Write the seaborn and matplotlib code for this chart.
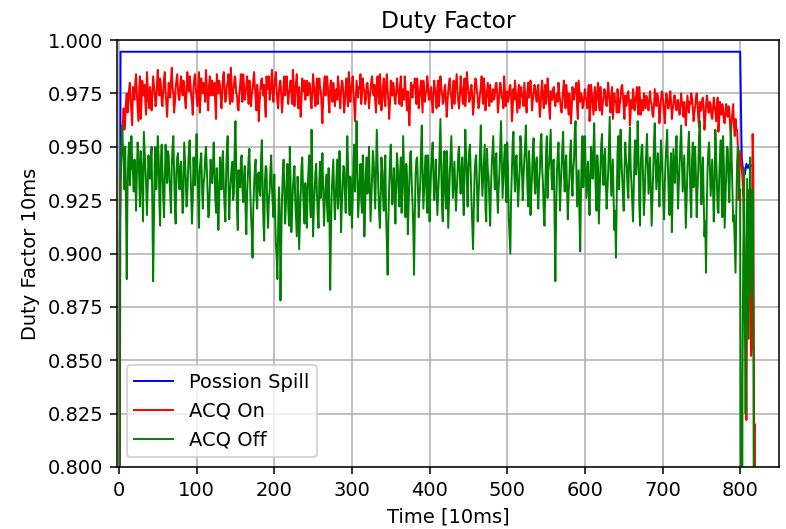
import numpy as np
import matplotlib
matplotlib.use("Agg")
import matplotlib.pyplot as plt
import seaborn as sns

# Poisson spill (flat breakpoints)
blue_x = [0, 2, 798, 800, 802, 804, 806, 808, 810, 812, 814]
blue_y = [0.500, 0.9945, 0.9945, 0.9945, 0.945, 0.938, 0.937, 0.942, 0.940, 0.942, 0.941]

# ACQ On, thousandths, one value per time unit from 0 (40 per row)
red_k = [
    500, 910, 930, 948, 955, 962, 968, 958, 962, 971, 975, 966, 970, 977, 980, 972, 966, 960, 978, 974, 972, 980, 984, 975, 968, 962, 976, 983, 963, 970, 981, 976, 974, 979, 970, 965, 985, 978, 972, 968,
    978, 973, 967, 975, 983, 979, 975, 969, 971, 980, 986, 977, 974, 982, 979, 971, 969, 976, 982, 985, 976, 970, 964, 972, 980, 976, 973, 981, 987, 978, 975, 966, 970, 978, 981, 984, 977, 972, 972, 980,
    983, 977, 974, 981, 979, 972, 968, 975, 985, 979, 976, 983, 980, 974, 971, 965, 978, 982, 984, 977, 973, 969, 979, 985, 966, 972, 982, 976, 975, 980, 977, 971, 986, 979, 972, 967, 979, 983, 974, 978,
    981, 974, 976, 980, 970, 963, 984, 978, 975, 981, 979, 973, 968, 976, 983, 985, 977, 971, 973, 979, 980, 984, 975, 970, 987, 980, 971, 976, 978, 983, 982, 975, 974, 968, 967, 975, 979, 984, 976, 971,
    984, 979, 972, 976, 978, 983, 975, 970, 981, 977, 969, 974, 977, 981, 985, 978, 973, 967, 979, 975, 962, 970, 976, 981, 982, 977, 974, 979, 970, 964, 983, 978, 977, 983, 972, 975, 980, 986, 975, 971,
    978, 982, 985, 977, 971, 968, 976, 980, 981, 974, 966, 972, 979, 983, 974, 978, 983, 976, 970, 975, 977, 981, 975, 970, 986, 979, 969, 975, 980, 984, 973, 968, 978, 972, 964, 971, 982, 978, 976, 981,
    972, 977, 981, 974, 975, 980, 979, 971, 968, 976, 984, 979, 973, 969, 977, 982, 970, 975, 982, 978, 976, 968, 961, 972, 979, 983, 974, 977, 983, 978, 971, 966, 978, 981, 975, 971, 980, 976, 969, 974,
    977, 972, 983, 979, 972, 968, 976, 981, 980, 974, 966, 971, 978, 982, 974, 969, 985, 979, 971, 976, 979, 983, 975, 969, 962, 973, 981, 977, 973, 978, 977, 984, 970, 975, 982, 978, 976, 970, 972, 979,
    980, 975, 968, 973, 977, 981, 983, 976, 974, 979, 971, 966, 979, 983, 975, 970, 984, 978, 967, 972, 978, 982, 972, 969, 980, 984, 976, 971, 963, 970, 981, 977, 974, 980, 978, 972, 970, 975, 982, 977,
    975, 970, 979, 983, 969, 974, 977, 972, 983, 978, 972, 967, 976, 968, 960, 971, 980, 976, 973, 979, 978, 982, 975, 970, 982, 977, 968, 973, 977, 981, 974, 966, 981, 977, 971, 975, 976, 983, 979, 972,
    972, 976, 978, 971, 966, 974, 981, 977, 974, 968, 977, 981, 969, 975, 983, 978, 975, 970, 971, 977, 979, 973, 964, 970, 976, 980, 982, 975, 973, 968, 977, 981, 970, 976, 980, 984, 975, 971, 968, 974,
    983, 978, 974, 970, 978, 982, 969, 974, 985, 980, 976, 971, 972, 977, 979, 973, 965, 969, 977, 982, 981, 976, 973, 968, 970, 975, 978, 983, 975, 970, 982, 977, 967, 972, 976, 980, 973, 969, 979, 974,
    971, 975, 977, 972, 974, 979, 980, 976, 966, 970, 975, 980, 978, 973, 972, 968, 983, 977, 969, 974, 976, 971, 973, 978, 979, 974, 962, 967, 977, 972, 981, 976, 971, 966, 975, 979, 968, 973, 978, 974,
    974, 969, 980, 975, 970, 966, 976, 980, 973, 977, 981, 975, 967, 972, 975, 979, 978, 973, 971, 976, 979, 971, 964, 969, 977, 981, 973, 968, 975, 979, 970, 974, 982, 976, 968, 963, 976, 972, 972, 977,
    978, 972, 969, 974, 975, 971, 980, 975, 972, 968, 966, 971, 977, 981, 973, 968, 979, 975, 970, 965, 975, 970, 961, 967, 978, 974, 972, 977, 976, 980, 968, 963, 981, 976, 971, 975, 974, 968, 969, 973,
    977, 973, 972, 968, 975, 979, 962, 968, 979, 975, 970, 965, 974, 978, 967, 972, 976, 980, 971, 967, 978, 972, 965, 970, 973, 977, 976, 971, 969, 974, 980, 975, 970, 966, 974, 978, 963, 969, 975, 971,
    971, 966, 977, 973, 966, 970, 973, 978, 979, 974, 968, 963, 974, 969, 970, 975, 976, 971, 960, 966, 972, 968, 977, 973, 967, 971, 974, 978, 969, 965, 978, 973, 965, 970, 972, 967, 975, 970, 968, 974,
    973, 969, 967, 972, 976, 971, 970, 965, 964, 969, 977, 973, 969, 975, 974, 970, 961, 966, 972, 976, 975, 970, 966, 961, 971, 975, 973, 968, 968, 972, 976, 971, 963, 967, 970, 974, 974, 969, 967, 971,
    972, 968, 965, 970, 975, 971, 968, 964, 971, 966, 960, 967, 974, 970, 966, 971, 970, 975, 973, 968, 962, 966, 969, 973, 975, 970, 964, 959, 971, 967, 967, 972, 973, 968, 958, 963, 969, 974, 972, 966,
    966, 971, 970, 964, 963, 968, 973, 969, 967, 962, 969, 973, 957, 963, 971, 966, 965, 970, 968, 962, 961, 966, 970, 965, 964, 969, 967, 960, 955, 962, 966, 970, 960, 955, 963, 958, 958, 950, 925, 940,
    948, 944, 940, 935, 925, 910, 900, 870, 822, 880, 930, 915, 910, 880, 852, 855, 956, 940, 816, 820, 600,
]

# ACQ Off, thousandths, one value per time unit from 0 (40 per row)
green_k = [
    500, 900, 935, 948, 960, 951, 942, 930, 950, 925, 888, 930, 945, 952, 932, 940, 955, 943, 938, 929, 944, 936, 920, 935, 952, 946, 936, 922, 948, 941, 928, 915, 957, 949, 940, 932, 918, 931, 946, 938,
    935, 944, 950, 921, 887, 915, 942, 950, 930, 939, 955, 946, 924, 913, 944, 951, 938, 926, 917, 934, 951, 940, 933, 948, 946, 935, 928, 919, 941, 950, 955, 938, 922, 914, 938, 945, 947, 933, 930, 941,
    943, 931, 919, 927, 952, 944, 935, 922, 927, 939, 948, 953, 940, 928, 914, 925, 945, 937, 932, 946, 956, 940, 925, 912, 939, 944, 947, 930, 921, 933, 936, 945, 950, 941, 930, 917, 918, 932, 944, 937,
    933, 941, 952, 938, 926, 919, 940, 929, 911, 925, 945, 936, 930, 944, 948, 931, 922, 915, 937, 949, 955, 932, 916, 928, 934, 940, 943, 925, 928, 950, 962, 941, 920, 911, 939, 933, 931, 944, 946, 930,
    924, 935, 941, 920, 909, 928, 936, 945, 949, 931, 918, 910, 898, 921, 932, 940, 944, 926, 921, 937, 938, 930, 927, 945, 953, 932, 915, 906, 934, 941, 940, 922, 912, 925, 929, 939, 946, 931, 923, 917,
    937, 921, 905, 899, 888, 912, 931, 920, 878, 905, 926, 938, 944, 929, 914, 923, 935, 942, 922, 913, 950, 934, 910, 921, 930, 937, 941, 925, 917, 908, 936, 927, 902, 915, 928, 940, 945, 931, 920, 914,
    933, 925, 912, 930, 939, 946, 925, 917, 958, 936, 908, 921, 930, 938, 942, 927, 918, 912, 934, 943, 926, 935, 947, 930, 913, 924, 931, 937, 922, 915, 940, 920, 883, 910, 929, 936, 944, 928, 916, 925,
    935, 944, 921, 930, 948, 933, 910, 922, 932, 941, 940, 928, 919, 937, 955, 942, 926, 918, 936, 929, 912, 926, 943, 951, 929, 944, 962, 940, 917, 926, 934, 942, 925, 919, 946, 935, 908, 921, 938, 945,
    928, 937, 950, 931, 915, 925, 936, 948, 943, 932, 921, 940, 958, 944, 930, 919, 912, 927, 945, 938, 927, 920, 939, 946, 918, 905, 890, 916, 932, 943, 951, 935, 923, 930, 940, 927, 914, 932, 947, 941,
    930, 922, 938, 945, 919, 931, 955, 941, 926, 917, 942, 935, 909, 923, 934, 947, 948, 933, 924, 912, 890, 918, 937, 944, 945, 930, 917, 926, 933, 949, 960, 938, 921, 930, 940, 946, 928, 919, 946, 937,
    915, 928, 939, 947, 952, 936, 925, 933, 944, 930, 918, 927, 936, 950, 963, 940, 922, 915, 941, 948, 930, 921, 948, 939, 912, 925, 937, 946, 955, 941, 926, 934, 943, 931, 920, 929, 939, 947, 950, 935,
    928, 938, 945, 930, 918, 941, 958, 947, 933, 922, 940, 948, 951, 937, 924, 913, 902, 921, 937, 944, 946, 932, 915, 927, 935, 949, 960, 940, 927, 935, 943, 951, 921, 915, 949, 939, 936, 925, 913, 930,
    941, 948, 955, 939, 930, 944, 947, 928, 919, 931, 938, 950, 962, 945, 926, 935, 944, 951, 933, 924, 952, 940, 917, 908, 900, 926, 940, 952, 957, 938, 929, 943, 946, 934, 922, 931, 939, 955, 950, 937,
    925, 936, 943, 951, 960, 944, 931, 922, 948, 940, 918, 929, 937, 949, 954, 935, 928, 941, 945, 930, 921, 933, 939, 952, 956, 940, 933, 920, 913, 931, 947, 955, 926, 939, 942, 950, 958, 936, 930, 943,
    944, 915, 887, 920, 938, 946, 952, 935, 920, 932, 941, 950, 957, 938, 929, 942, 946, 930, 916, 928, 935, 947, 953, 936, 927, 939, 944, 957, 962, 940, 922, 931, 939, 918, 901, 930, 948, 955, 931, 940,
    955, 940, 926, 935, 943, 929, 918, 936, 950, 944, 935, 948, 961, 942, 929, 920, 946, 938, 914, 928, 940, 951, 956, 937, 932, 945, 949, 933, 921, 930, 938, 952, 964, 941, 927, 936, 944, 925, 911, 920,
    898, 925, 947, 955, 930, 942, 958, 945, 936, 927, 920, 938, 952, 944, 941, 930, 926, 949, 959, 940, 933, 924, 915, 932, 948, 953, 937, 945, 962, 946, 924, 913, 942, 950, 951, 934, 918, 927, 939, 948,
    956, 941, 928, 937, 945, 930, 913, 925, 938, 952, 961, 944, 930, 939, 947, 935, 922, 940, 953, 946, 935, 924, 916, 933, 944, 951, 958, 940, 926, 918, 940, 947, 910, 928, 949, 941, 933, 945, 955, 938,
    921, 933, 942, 951, 960, 943, 929, 938, 946, 930, 912, 925, 938, 949, 957, 941, 925, 917, 944, 952, 931, 942, 950, 936, 917, 929, 939, 955, 962, 940, 923, 935, 945, 927, 908, 915, 891, 922, 940, 948,
    952, 940, 927, 935, 944, 931, 915, 929, 958, 947, 933, 921, 919, 936, 946, 953, 928, 917, 955, 942, 912, 925, 938, 950, 949, 934, 924, 941, 960, 945, 930, 915, 918, 905, 891, 920, 942, 950, 935, 928,
    930, 700, 600, 842, 900, 940, 870, 825, 880, 935, 900, 860, 920, 945, 900, 880, 930, 860, 700, 500,
]

red_x = np.arange(len(red_k))
green_x = np.arange(len(green_k))
red_y = np.array(red_k) / 1000.0
green_y = np.array(green_k) / 1000.0

DPI = 140
fig = plt.figure(figsize=(786 / DPI, 529 / DPI), dpi=DPI)
ax = fig.add_axes([116.8 / 786, 1 - 467 / 529, (779 - 116.8) / 786, (467 - 40) / 529])

sns.lineplot(x=blue_x, y=blue_y, color="blue", linewidth=1, label="Possion Spill", ax=ax)
sns.lineplot(x=red_x, y=red_y, color="red", linewidth=1, label="ACQ On", ax=ax)
sns.lineplot(x=green_x, y=green_y, color="green", linewidth=1, label="ACQ Off", ax=ax)

ax.set_xlim(-2.8, 850)
ax.set_ylim(0.8, 1.0)
ax.set_yticks(np.arange(0.8, 1.0001, 0.025))
ax.set_xticks(np.arange(0, 801, 100))
ax.grid(True)
ax.set_title("Duty Factor")
ax.set_xlabel("Time [10ms]")
ax.set_ylabel("Duty Factor 10ms")
ax.legend(loc="lower left")

fig.savefig("out.png", dpi=DPI)
